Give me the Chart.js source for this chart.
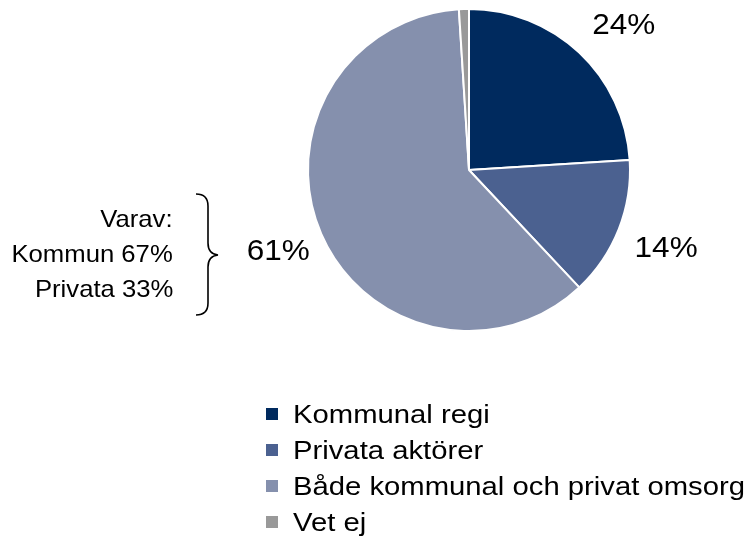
<!DOCTYPE html>
<html>
<head>
<meta charset="utf-8">
<script src="https://cdn.jsdelivr.net/npm/chart.js@4.4.0/dist/chart.umd.min.js"></script>
<style>
  body { margin: 0; background: #fff; font-family: "Liberation Sans", Arial, sans-serif; }
  #wrap { position: relative; width: 748px; height: 540px; overflow: hidden; }
  #pie { position: absolute; left: 0; top: 0; }
  .leg { position: absolute; left: 266px; height: 30px; line-height: 30px; font-size: 26px; color: #000; white-space: nowrap; }
  .leg .box { position: absolute; left: 0; top: 9px; width: 12px; height: 12px; }
  .leg .txt { position: absolute; left: 27px; top: 0; transform: scaleX(1.125); transform-origin: left center; }
  .note { position: absolute; right: 575px; font-size: 24px; line-height: 26px; text-align: right; white-space: nowrap; transform: scaleX(1.07); transform-origin: right center; }
</style>
</head>
<body>
<div id="wrap">
  <canvas id="pie" width="748" height="540"></canvas>
  <svg width="748" height="540" style="position:absolute;left:0;top:0">
    <path d="M196,194 Q208,194 208,206 L208,243 Q208,254 218,255 Q208,256 208,267 L208,303 Q208,315 196,315"
          fill="none" stroke="#000" stroke-width="1.6"/>
  </svg>
</div>
<script>
// Data
const categories = ['Kommunal regi', 'Privata aktörer', 'Både kommunal och privat omsorg', 'Vet ej'];
const shares = [24, 14, 61, 1];
const colors = ['#002a5e', '#4b6190', '#8590ad', '#999999'];
const noteLines = ['Varav:', 'Kommun 67%', 'Privata 33%'];

const wrap = document.getElementById('wrap');

// Legend (HTML)
const legendTop = 399;
categories.forEach((c, i) => {
    const row = document.createElement('div');
    row.className = 'leg';
    row.style.top = (legendTop + i * 36) + 'px';
    row.innerHTML = '<span class="box" style="background:' + colors[i] + '"></span><span class="txt"></span>';
    row.querySelector('.txt').textContent = c;
    wrap.appendChild(row);
});

// Annotation left of the pie
noteLines.forEach((t, i) => {
    const d = document.createElement('div');
    d.className = 'note';
    d.style.top = (206 + i * 35) + 'px';
    d.textContent = t;
    wrap.appendChild(d);
});

// Percentage labels outside the slices (small nudges to match the original placement)
const angleNudge = [0.065, 0, 0.01, 0];
const radiusGap = [51, 51, 46, 0];

const outsideLabels = {
    id: 'outsideLabels',
    afterDatasetsDraw(chart) {
        const ctx = chart.ctx;
        const meta = chart.getDatasetMeta(0);
        ctx.save();
        ctx.font = '30px "Liberation Sans", Arial, sans-serif';
        ctx.fillStyle = '#000';
        ctx.textAlign = 'center';
        ctx.textBaseline = 'middle';
        meta.data.forEach((arc, i) => {
            const v = shares[i];
            if (v < 2) return;
            const p = arc.getProps(['x', 'y', 'startAngle', 'endAngle', 'outerRadius'], true);
            const mid = (p.startAngle + p.endAngle) / 2 + angleNudge[i];
            const r = p.outerRadius + radiusGap[i];
            ctx.save();
            ctx.translate(p.x + Math.cos(mid) * r, p.y + Math.sin(mid) * r);
            ctx.scale(1.05, 1);
            ctx.fillText(v + '%', 0, 1);
            ctx.restore();
        });
        ctx.restore();
    }
};

new Chart(document.getElementById('pie'), {
    type: 'pie',
    data: {
        labels: categories,
        datasets: [{
            data: shares,
            backgroundColor: colors,
            borderColor: '#ffffff',
            borderWidth: 2,
        }],
    },
    options: {
        responsive: false,
        devicePixelRatio: 1,
        animation: false,
        layout: { padding: { left: 307, top: 8, right: 117, bottom: 208 } },
        plugins: {
            legend: { display: false },
            tooltip: { enabled: false },
        },
    },
    plugins: [outsideLabels],
});
</script>
</body>
</html>
